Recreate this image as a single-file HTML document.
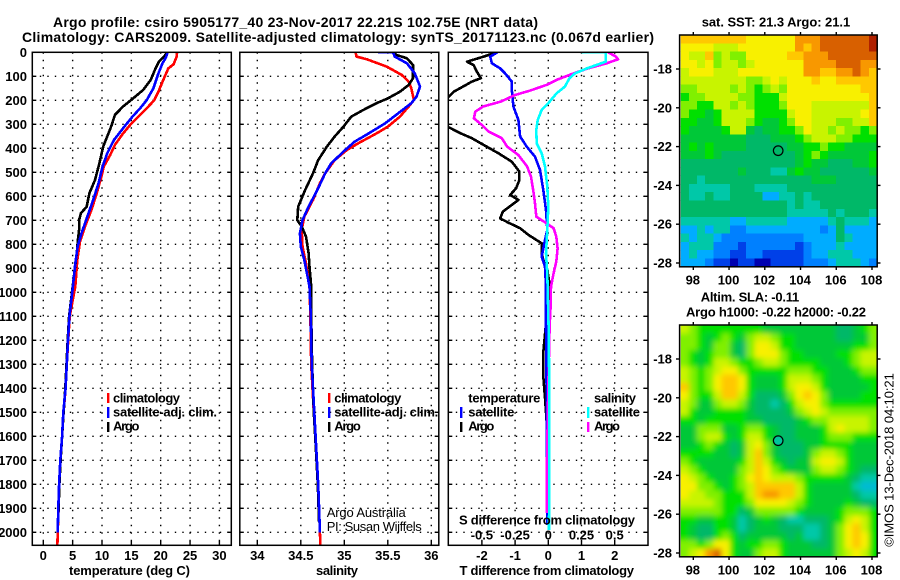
<!DOCTYPE html>
<html lang="en">
<head>
<meta charset="utf-8">
<title>Argo profile csiro 5905177_40</title>
<style>
html,body{margin:0;padding:0;background:#fff;width:900px;height:580px;overflow:hidden}
svg{display:block;font-family:"Liberation Sans",sans-serif}
text{fill:#000;font-weight:bold;font-size:13px}
.title{font-size:14px}
.thin{font-weight:normal}
.frame{fill:none;stroke:#000;stroke-width:1.5}
.grid{stroke:#000;stroke-width:1.4;stroke-dasharray:1.4 6.1;fill:none}
.tick{stroke:#000;stroke-width:1.4}
.curve{fill:none;stroke-width:2.6;stroke-linejoin:round;shape-rendering:crispEdges}
</style>
</head>
<body>
<svg id="figure" xmlns="http://www.w3.org/2000/svg" width="900" height="580" viewBox="0 0 900 580">
<defs>
<clipPath id="clip-temp"><rect x="32" y="52" width="199.5" height="493.5"/></clipPath>
<clipPath id="clip-sal"><rect x="239.5" y="52" width="199.5" height="493.5"/></clipPath>
<clipPath id="clip-diff"><rect x="448" y="52" width="200" height="493.5"/></clipPath>
<clipPath id="clip-map1"><rect x="680.7" y="35" width="196.3" height="231.7"/></clipPath>
<clipPath id="clip-map2"><rect x="680.7" y="325" width="196.3" height="231.7"/></clipPath>
<filter id="smooth" x="-10%" y="-10%" width="120%" height="120%"><feGaussianBlur stdDeviation="2.6"/></filter>
</defs>

<text class="title" x="53" y="27" textLength="485">Argo profile: csiro 5905177_40 23-Nov-2017 22.21S 102.75E (NRT data)</text>
<text class="title" x="22" y="42" textLength="632">Climatology: CARS2009. Satellite-adjusted climatology: synTS_20171123.nc (0.067d earlier)</text>

<g id="panel-temp"></g>
<g id="panel-sal"></g>
<g id="panel-diff"></g>

<rect class="frame" x="32.3" y="52.3" width="199" height="493"/>
<rect class="frame" x="239.8" y="52.3" width="199" height="493"/>
<rect class="frame" x="448.3" y="52.3" width="199.7" height="493"/>

<g>
<rect x="107" y="393" width="2.4" height="10" fill="#f00"/>
<rect x="107" y="407" width="2.4" height="11" fill="#00f"/>
<rect x="107" y="422" width="2.4" height="10" fill="#000"/>
<text x="113" y="402.5" textLength="67">climatology</text>
<text x="113" y="416.5" textLength="104">satellite-adj. clim.</text>
<text x="113" y="430.5" textLength="26.5">Argo</text>
</g>
<g>
<rect x="328" y="393" width="2.4" height="10" fill="#f00"/>
<rect x="328" y="407" width="2.4" height="11" fill="#00f"/>
<rect x="328" y="422" width="2.4" height="10" fill="#000"/>
<text x="334.3" y="402.5" textLength="67">climatology</text>
<text x="334.3" y="416.5" textLength="104">satellite-adj. clim.</text>
<text x="334.3" y="430.5" textLength="26.5">Argo</text>
<text class="thin" x="326.7" y="517" textLength="79">Argo Australia</text>
<text class="thin" x="326.7" y="531" textLength="95">PI: Susan Wijffels</text>
</g>
<g>
<text x="468.3" y="402.5" textLength="72">temperature</text>
<text x="468.3" y="416.5" textLength="46">satellite</text>
<text x="468.3" y="430.5" textLength="26">Argo</text>
<rect x="460" y="407" width="2.4" height="11" fill="#00f"/>
<rect x="460" y="422" width="2.4" height="10" fill="#000"/>
<text x="594" y="402.5" textLength="42">salinity</text>
<text x="594" y="416.5" textLength="46">satellite</text>
<text x="594" y="430.5" textLength="26">Argo</text>
<rect x="587" y="407" width="2.4" height="11" fill="#0ff"/>
<rect x="587" y="422" width="2.4" height="10" fill="#f0f"/>
<text x="459" y="524.5" textLength="176">S difference from climatology</text>
</g>

<text x="69" y="575" textLength="121">temperature (deg C)</text>
<text x="316" y="575" textLength="42">salinity</text>
<text x="459.5" y="575" textLength="174.5">T difference from climatology</text>

<text x="701.7" y="26.5" textLength="148.5">sat. SST: 21.3 Argo: 21.1</text>
<text x="700.7" y="301.5" textLength="98.5">Altim. SLA: -0.11</text>
<text x="686" y="316.5" textLength="180">Argo h1000: -0.22 h2000: -0.22</text>

<g id="map-sst"></g>
<g id="map-sla"></g>

<text class="thin" transform="translate(893.5,546.7) rotate(-90)" textLength="173.5">©IMOS 13-Dec-2018 04:10:21</text>
</svg>

<script>
// ---------- tick labels ----------
const depthTicks = [0,100,200,300,400,500,600,700,800,900,1000,1100,1200,1300,1400,1500,1600,1700,1800,1900,2000];
const tempTicks = [0,5,10,15,20,25,30];
const salTicks = [34,34.5,35,35.5,36];
const diffTTicks = [-2,-1,0,1,2];
const diffSTicks = [-0.5,-0.25,0,0.25,0.5];
const lonTicks = [98,100,102,104,106,108];
const latTicks = [-18,-20,-22,-24,-26,-28];
const argoLon = 102.75;
const argoLat = -22.21;
const argoSlaLevel = 4.2;

// ---------- temperature panel (deg C) ----------
const tempClimDepth = [0,20,50,67,115,164,200,226,260,296,338,386,428,476,518,588,657,726,789,865,976,1100,1200,1300,1400,1500,1600,1700,1800,1900,2000,2054];
const tempClim = [22.8,22.7,22.2,21.3,20.45,19.6,18.9,17.9,16.5,15.05,13.6,12.2,11.4,10.3,9.9,9.1,8.2,7.1,6.25,5.8,5.45,4.5,4.25,4.0,3.8,3.45,3.2,2.95,2.75,2.6,2.45,2.4];
const tempSatDepth = [0,21,46,88,150,200,233,268,310,365,420,476,546,615,685,754,810,880,976,1100,1200,1300,1400,1500,1600,1700,1800,1900,2000];
const tempSat = [21.2,20.9,20.3,19.6,18.75,17.6,16.5,15.2,13.8,12.05,10.9,10.1,9.4,8.5,7.5,6.5,5.85,5.45,5.05,4.45,4.2,4.0,3.8,3.4,3.2,2.9,2.7,2.55,2.45];
const tempArgoDepth = [0,21,39,74,115,157,192,226,261,303,338,393,462,532,587,643,671,699,740,782,837,907,976,1100,1200,1300,1400,1500,1600,1700,1800,1900,1960];
const tempArgo = [21.2,20.45,19.7,19.0,18.3,17.0,15.3,13.6,12.2,11.65,11.1,10.2,9.55,8.8,7.85,7.4,6.4,6.1,6.1,5.9,5.7,5.35,5.0,4.4,4.15,3.95,3.75,3.45,3.2,2.95,2.75,2.6,2.5];

// ---------- salinity panel ----------
const salClimDepth = [0,18,29,60,94,122,150,199,226,268,310,338,379,407,449,504,546,615,685,740,810,879,976,1100,1200,1300,1400,1500,1600,1700,1800,1900,2000,2054];
const salClim = [35.13,35.14,35.26,35.49,35.66,35.74,35.77,35.8,35.74,35.64,35.5,35.37,35.16,35.03,34.89,34.78,34.72,34.64,34.54,34.51,34.52,34.56,34.6,34.61,34.615,34.62,34.635,34.65,34.67,34.685,34.7,34.71,34.72,34.725];
const salSatDepth = [0,0,18,46,88,143,185,212,254,296,338,372,407,462,504,574,643,699,754,810,865,976,1100,1200,1300,1400,1500,1600,1700,1800,1900,2000];
const salSat = [35.39,35.56,35.58,35.72,35.81,35.87,35.83,35.77,35.62,35.47,35.28,35.12,35.01,34.85,34.78,34.69,34.59,34.52,34.49,34.5,34.54,34.6,34.615,34.62,34.625,34.64,34.655,34.67,34.685,34.7,34.71,34.72];
const salArgoDepth = [0,11,25,53,108,136,164,192,212,240,268,310,351,393,449,504,574,643,699,726,768,837,893,976,1100,1200,1300,1400,1500,1600,1700,1800,1900,1960];
const salArgo = [35.56,35.6,35.72,35.79,35.79,35.74,35.64,35.5,35.37,35.22,35.08,34.99,34.89,34.8,34.7,34.64,34.55,34.47,34.46,34.51,34.56,34.59,34.6,34.62,34.62,34.625,34.63,34.64,34.65,34.665,34.68,34.695,34.705,34.71];

// ---------- difference panel: T units and S units ----------
const diffTArgoDepth = [0,18,39,53,81,108,122,143,164,185,228,312,337,358,386,421,456,497,532,567,594,615,636,664,692,710,733,761,796,838,866,907,976,1060,1130,1250,1350,1440,1560,1700,1960];
const diffTArgo = [-1.55,-1.95,-2.45,-2.25,-2.15,-2.03,-2.3,-2.57,-2.85,-3.0,-3.6,-3.0,-2.65,-2.3,-1.95,-1.5,-1.1,-0.87,-0.87,-0.97,-1.15,-0.9,-1.1,-1.37,-1.45,-1.2,-0.85,-0.6,-0.2,-0.2,-0.15,-0.03,0.05,0.0,-0.07,-0.15,-0.15,-0.1,-0.04,-0.03,-0.02];
const diffTSatDepth = [0,18,46,67,88,122,157,226,282,351,393,435,490,574,657,740,782,851,893,976,1143,1400,1700,1970];
const diffTSat = [-1.53,-1.75,-1.7,-1.45,-1.3,-1.1,-1.1,-1.05,-0.9,-0.85,-0.65,-0.4,-0.25,-0.15,-0.07,-0.03,-0.1,-0.2,-0.1,-0.07,-0.07,-0.05,-0.04,-0.03];
const diffSArgoDepth = [0,18,29,46,67,88,115,136,160,178,206,226,247,275,303,330,358,393,428,476,518,588,629,685,710,733,768,817,872,921,976,1060,1143,1400,1700,1920];
const diffSArgo = [0.45,0.51,0.525,0.44,0.3,0.19,0.0625,-0.0125,-0.14,-0.25,-0.36,-0.49,-0.55,-0.56,-0.5,-0.45,-0.35,-0.31,-0.225,-0.16,-0.13,-0.11,-0.1,-0.09,-0.02,0.04,0.06,0.07,0.06,0.04,0.02,0.017,0.01,0.0,-0.01,-0.012];
const diffSSatDepth = [0,0,39,53,67,88,108,143,171,212,240,282,324,379,421,476,560,643,740,838,921,1143,1400,1700,1990];
const diffSSat = [0.25,0.4325,0.4325,0.3625,0.29,0.2,0.16,0.125,0.0625,0,-0.05,-0.08,-0.09,-0.0875,-0.05,-0.025,-0.0075,0,-0.0075,-0.017,-0.0075,0.0025,0.0075,0.0075,0.005];

// ---------- SST map colour levels ----------
const sstGrid = [
[11,11,11,11,11,11,11,11,10,10,10,10,10,10,12,12,12,13,13,13,13,13,13,14],
[10,10,10,10,9,9,9,10,10,10,10,10,10,10,12,11,12,13,13,13,13,13,13,14],
[10,9,9,11,8,9,8,8,10,10,10,10,10,11,11,12,12,12,13,13,13,13,13,13],
[10,10,9,10,8,9,9,8,9,10,10,10,10,10,10,12,12,12,12,13,13,13,12,12],
[9,10,10,10,9,9,9,10,10,10,10,10,10,10,10,12,12,11,11,12,12,13,12,11],
[9,9,9,9,9,9,9,9,8,8,9,10,9,10,10,10,11,10,10,11,11,11,11,11],
[8,8,9,9,9,9,8,9,8,7,8,9,8,10,10,10,10,10,10,10,10,10,11,11],
[7,8,8,9,9,9,9,8,8,7,7,7,9,10,10,10,10,10,10,10,10,10,10,11],
[8,8,7,7,9,9,8,9,8,7,7,7,8,10,10,10,9,9,9,9,9,9,9,11],
[8,7,7,6,7,9,9,9,9,7,7,7,7,9,10,10,9,9,9,9,9,9,10,11],
[7,7,6,6,7,9,9,9,8,7,6,6,7,8,10,10,9,9,9,8,8,9,9,11],
[7,6,6,6,6,7,9,9,6,5,6,6,7,7,8,10,9,9,8,9,8,8,7,8],
[6,6,6,6,6,6,6,6,5,5,5,6,6,6,7,8,9,9,9,8,8,7,7,7],
[6,7,6,7,6,6,6,6,5,5,5,5,5,6,6,7,7,8,7,7,6,6,6,6],
[6,6,6,7,6,5,5,5,5,5,5,5,5,5,6,7,8,7,6,6,6,6,6,7],
[5,5,5,5,5,5,5,5,5,5,5,5,5,5,6,7,6,6,5,5,5,6,6,7],
[5,5,5,5,5,5,5,6,5,5,5,4,4,6,7,6,6,5,5,5,5,5,5,6],
[5,5,4,5,5,5,5,5,5,5,5,5,5,5,5,5,6,6,6,5,5,5,5,5],
[5,4,4,4,4,4,5,5,5,4,4,4,4,5,5,5,5,5,5,5,5,5,5,5],
[5,4,4,5,4,4,5,5,5,5,3,3,4,4,5,4,5,5,5,5,5,5,5,5],
[5,5,5,5,5,5,5,5,5,5,5,5,5,4,5,4,4,5,5,5,5,5,5,5],
[5,5,5,5,5,5,5,5,5,5,5,5,5,4,4,4,4,4,5,4,5,5,5,4],
[4,4,4,4,4,4,3,3,4,4,4,4,4,3,3,3,3,3,4,5,4,4,4,3],
[3,3,4,3,4,4,2,2,3,3,3,3,3,3,3,3,3,2,3,5,3,3,3,3],
[4,3,4,4,3,2,2,2,2,2,2,2,2,2,2,3,3,3,3,5,4,3,3,3],
[3,4,4,4,2,2,2,1,2,2,2,2,2,2,1,2,3,3,3,4,3,3,3,3],
[3,4,3,3,2,2,1,1,2,2,1,1,1,1,1,2,3,3,4,4,4,3,3,3],
[3,3,3,2,1,1,0,1,1,0,0,1,1,1,1,2,2,2,3,4,4,4,3,2]
];

// ---------- SLA map colour levels ----------
const slaGrid = [
[9,8,7,7,7,7,7,7,7,7,6,6,6,6,6,6,6,6,6,5,5,6,7,8],
[8,8,7,6,7,8,7,6,8,9,9,8,7,7,6,6,6,6,6,5,5,6,6,8],
[8,8,7,6,8,8,6,5,8,10,10,9,7,7,6,6,6,6,6,6,6,7,7,8],
[8,7,6,7,8,8,6,5,8,10,10,10,8,7,7,6,6,6,6,7,7,8,9,9],
[8,7,6,7,9,9,8,7,7,8,9,9,8,7,7,7,7,6,6,6,7,8,9,9],
[9,8,7,8,9,10,10,8,7,7,7,7,7,8,8,8,7,7,6,6,6,7,8,8],
[9,8,7,8,10,11,11,10,7,6,6,6,7,9,9,9,8,7,6,6,6,6,7,7],
[11,8,7,8,10,11,11,10,7,6,6,6,7,9,10,10,9,7,6,6,6,6,6,7],
[10,8,7,7,9,11,11,9,7,5,5,5,6,8,10,11,10,8,6,6,6,6,7,7],
[9,8,6,6,8,9,9,8,6,5,5,4,5,7,9,10,10,8,7,7,7,7,7,7],
[9,7,6,6,7,7,7,7,6,5,5,5,5,6,8,9,10,9,8,8,8,8,8,8],
[7,7,6,7,7,7,7,7,6,6,5,5,5,5,6,7,8,8,9,9,9,9,9,8],
[6,6,8,8,8,6,6,7,8,8,7,6,5,5,6,6,6,7,9,10,9,9,9,8],
[6,6,8,9,9,7,6,7,9,9,7,6,5,5,6,6,6,7,8,8,8,7,7,7],
[6,6,7,8,7,6,5,6,9,10,8,6,5,5,5,6,6,7,7,7,7,6,6,6],
[7,7,7,7,6,6,5,6,9,11,8,6,5,5,5,6,8,9,9,8,7,6,6,6],
[8,7,6,6,6,6,6,7,9,11,9,7,6,5,6,6,9,10,10,9,7,6,6,6],
[9,8,7,6,6,6,6,8,9,11,10,8,7,6,6,6,8,9,9,8,7,6,5,5],
[10,9,8,7,6,6,7,8,10,11,10,9,9,9,8,7,7,7,7,7,6,5,4,4],
[10,10,8,8,7,6,7,8,9,11,11,11,11,11,9,7,6,6,6,6,6,4,3.5,3.5],
[10,9,9,8,8,7,7,7,9,11,12,12,11,11,9,7,6,6,6,6,6,5,4,4],
[9,9,9,9,8,7,7,7,8,10,10,10,10,9,8,7,6,6,6,6,7,6,5,5],
[8,8,8,8,8,7,7,5,6,8,8,8,8,8,7,6,6,6,6,7,8,8,8,7],
[7,7,6,6,7,7,6,4,5,6,7,6,5,4,4,5,5,5,6,7,9,10,9,7],
[7,6,5,5,7,7,6,4,5,6,6,6,5,5,5,4,4,5,6,8,10,11,9,7],
[7,6,5,5,7,8,7,5,6,6,6,6,6,5,6,4,4,5,6,8,10,11,10,7],
[8,8,7,8,10,10,7,6,7,7,8,8,7,6,6,6,5,5,6,8,10,11,10,7],
[8,9,10,12,13,10,7,6,6,8,9,9,7,6,6,6,6,6,6,8,9,10,9,7]
];

// ---------- axis functions ----------
const SVGNS = 'http://www.w3.org/2000/svg';
const depthY = d => 52.3 + d * 0.24;
const tempX = t => 43.3 + t * 5.87;
const salX = s => 257.3 + (s - 34) * 87;
const diffTX = t => 548.3 + t * 33.2;
const diffSX = s => 548.3 + s * 132.8;
const lonX = lon => 693.3 + (lon - 98) * 17.87;
const latY = (lat, offset) => 69 + offset + (-18 - lat) * 19.4;

const palette = ['#0000b0','#0040e8','#0080ff','#00acff','#00c8a8','#00b868','#00c838','#00e000','#80f000','#c8f400','#f8f000','#ffc800','#f89800','#d86000','#b02000'];
function levelColor(v) {
  const clamped = Math.max(0, Math.min(palette.length - 1, v));
  const low = Math.floor(clamped), high = Math.min(palette.length - 1, low + 1), f = clamped - low;
  const ch = (c, i) => parseInt(c.substr(1 + i * 2, 2), 16);
  const mix = i => Math.round(ch(palette[low], i) * (1 - f) + ch(palette[high], i) * f);
  return 'rgb(' + mix(0) + ',' + mix(1) + ',' + mix(2) + ')';
}

function make(tag, parent) {
  const el = document.createElementNS(SVGNS, tag);
  parent.appendChild(el);
  return el;
}
function placeLine(el, x1, y1, x2, y2, cls) {
  el.setAttribute('x1', x1);
  el.setAttribute('y1', y1);
  el.setAttribute('x2', x2);
  el.setAttribute('y2', y2);
  el.setAttribute('class', cls);
}
function placeText(el, str, x, y, anchor) {
  el.textContent = str;
  el.setAttribute('x', x);
  el.setAttribute('y', y);
  el.setAttribute('text-anchor', anchor);
}
function placeCurve(el, depths, values, xFn, color, clip) {
  const pts = depths.map((d, i) => xFn(values[i]).toFixed(1) + ',' + depthY(d).toFixed(1));
  el.setAttribute('points', pts.join(' '));
  el.setAttribute('stroke', color);
  el.setAttribute('class', 'curve');
  el.setAttribute('clip-path', 'url(#' + clip + ')');
}

// ---------- profile panel scaffolding ----------
function drawPanelGrid(group, left, right, xTicks, xFn) {
  depthTicks.forEach(d => {
    const y = depthY(d);
    if (d > 0) {
      const g = make('line', group);
      
      
      placeLine(g, left, y, right, y, 'grid');
      const tl = make('line', group);
      
      
      placeLine(tl, left, y, left + 4, y, 'tick');
      const tr = make('line', group);
      
      
      placeLine(tr, right - 4, y, right, y, 'tick');
    }
  });
  xTicks.forEach(v => {
    const x = xFn(v);
    const g = make('line', group);
    
    
    placeLine(g, x, 52.3, x, 545.3, 'grid');
    const tb = make('line', group);
    
    
    placeLine(tb, x, 541, x, 545.3, 'tick');
    const lab = make('text', group);
    
    
    placeText(lab, String(v), x, 560, 'middle');
  });
}

const panelTemp = document.getElementById('panel-temp');
const panelSal = document.getElementById('panel-sal');
const panelDiff = document.getElementById('panel-diff');

drawPanelGrid(panelTemp, 32.3, 231.3, tempTicks, tempX);
drawPanelGrid(panelSal, 239.8, 438.8, salTicks, salX);
drawPanelGrid(panelDiff, 448.3, 648, diffTTicks, diffTX);

depthTicks.forEach(d => {
  const lab = make('text', panelTemp);
  
  
  placeText(lab, String(d), 27, depthY(d) + 4.5, 'end');
});

diffSTicks.forEach(v => {
  const lab = make('text', panelDiff);
  
  
  placeText(lab, String(v), diffSX(v), 539.5, 'middle');
});

// ---------- temperature curves ----------
const curveTempClim = make('polyline', panelTemp);


placeCurve(curveTempClim, tempClimDepth, tempClim, tempX, '#f00', 'clip-temp');

const curveTempArgo = make('polyline', panelTemp);


placeCurve(curveTempArgo, tempArgoDepth, tempArgo, tempX, '#000', 'clip-temp');

const curveTempSat = make('polyline', panelTemp);


placeCurve(curveTempSat, tempSatDepth, tempSat, tempX, '#00f', 'clip-temp');

// ---------- salinity curves ----------
const curveSalClim = make('polyline', panelSal);


placeCurve(curveSalClim, salClimDepth, salClim, salX, '#f00', 'clip-sal');

const curveSalArgo = make('polyline', panelSal);


placeCurve(curveSalArgo, salArgoDepth, salArgo, salX, '#000', 'clip-sal');

const curveSalSat = make('polyline', panelSal);


placeCurve(curveSalSat, salSatDepth, salSat, salX, '#00f', 'clip-sal');

// ---------- difference curves ----------
const curveDiffTArgo = make('polyline', panelDiff);


placeCurve(curveDiffTArgo, diffTArgoDepth, diffTArgo, diffTX, '#000', 'clip-diff');

const curveDiffTSat = make('polyline', panelDiff);


placeCurve(curveDiffTSat, diffTSatDepth, diffTSat, diffTX, '#00f', 'clip-diff');

const curveDiffSArgo = make('polyline', panelDiff);


placeCurve(curveDiffSArgo, diffSArgoDepth, diffSArgo, diffSX, '#f0f', 'clip-diff');

const curveDiffSSat = make('polyline', panelDiff);


placeCurve(curveDiffSSat, diffSSatDepth, diffSSat, diffSX, '#0ff', 'clip-diff');

// ---------- maps ----------
const lonStart = 97.295, lonStep = 0.4577, latStart = -16.25, latStep = 0.4264;
function drawCells(group, grid, offset, extend, name) {
  grid.forEach((row, r) => {
    row.forEach((v, c) => {
      const cell = make('rect', group);
      
      
      const x0 = lonX(lonStart + c * lonStep), x1 = lonX(lonStart + (c + 1) * lonStep);
      const y0 = latY(latStart - r * latStep, offset), y1 = latY(latStart - (r + 1) * latStep, offset);
      const left = c === 0 ? x0 - extend : x0;
      const right = c === row.length - 1 ? x1 + extend : x1;
      const top = r === 0 ? y0 - extend : y0;
      const bottom = r === grid.length - 1 ? y1 + extend : y1;
      cell.setAttribute('x', left.toFixed(2));
      cell.setAttribute('y', top.toFixed(2));
      cell.setAttribute('width', (right - left + 0.4).toFixed(2));
      cell.setAttribute('height', (bottom - top + 0.4).toFixed(2));
      cell.setAttribute('fill', levelColor(v));
      cell.setAttribute('shape-rendering', 'crispEdges');
    });
  });
}
function drawMapAxes(group, offset) {
  const frame = make('rect', group);
  
  
  frame.setAttribute('x', 679.6);
  frame.setAttribute('y', 35 + offset);
  frame.setAttribute('width', 197.6);
  frame.setAttribute('height', 231.8);
  frame.setAttribute('class', 'frame');
  lonTicks.forEach(lon => {
    const x = lonX(lon);
    const top = make('line', group);
    
    
    placeLine(top, x, 32 + offset, x, 35 + offset, 'tick');
    const bottom = make('line', group);
    
    
    placeLine(bottom, x, 267 + offset, x, 270 + offset, 'tick');
    const lab = make('text', group);
    
    
    placeText(lab, String(lon), x - 0.5, 284.5 + offset, 'middle');
  });
  latTicks.forEach(lat => {
    const y = latY(lat, offset);
    const left = make('line', group);
    
    
    placeLine(left, 676, y, 679.6, y, 'tick');
    const right = make('line', group);
    
    
    placeLine(right, 877.2, y, 880.5, y, 'tick');
    const lab = make('text', group);
    
    
    placeText(lab, String(lat), 672, y + 4.5, 'end');
  });
}

const mapSst = document.getElementById('map-sst');
const sstCells = make('g', mapSst);


sstCells.setAttribute('clip-path', 'url(#clip-map1)');
drawCells(sstCells, sstGrid, 0, 0, 'sst-cell');
drawMapAxes(mapSst, 0);
const sstMarker = make('circle', mapSst);


sstMarker.setAttribute('cx', lonX(argoLon));
sstMarker.setAttribute('cy', latY(argoLat, 0));
sstMarker.setAttribute('r', 4.8);
sstMarker.setAttribute('fill', 'none');
sstMarker.setAttribute('stroke', '#000');
sstMarker.setAttribute('stroke-width', '1.2');

const mapSla = document.getElementById('map-sla');
const slaClip = make('g', mapSla);


slaClip.setAttribute('clip-path', 'url(#clip-map2)');
const slaCells = make('g', slaClip);


slaCells.setAttribute('filter', 'url(#smooth)');
drawCells(slaCells, slaGrid, 290, 14, 'sla-cell');
drawMapAxes(mapSla, 290);
const slaMarker = make('circle', mapSla);


slaMarker.setAttribute('cx', lonX(argoLon));
slaMarker.setAttribute('cy', latY(argoLat, 290));
slaMarker.setAttribute('r', 4.8);
slaMarker.setAttribute('fill', levelColor(argoSlaLevel));
slaMarker.setAttribute('stroke', '#000');
slaMarker.setAttribute('stroke-width', '1.2');
</script>
</body>
</html>
